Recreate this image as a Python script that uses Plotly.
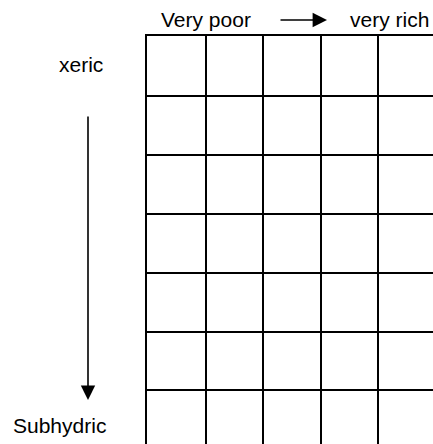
import plotly.graph_objects as go

# edatopic grid: nutrient richness across, soil moisture down
nutrient_classes = ['very poor', 'poor', 'medium', 'rich', 'very rich']
moisture_classes = ['xeric', 'very dry', 'dry', 'fresh', 'moist', 'wet', 'subhydric']
axis_labels = {'left': 'Very poor', 'right': 'very rich',
               'top': 'xeric', 'bottom': 'Subhydric'}

W, H = 433, 444
L, T = 147, 36
col_px, row_px = 57.5, 58.9
font = dict(family='Liberation Sans, Arial, sans-serif', size=21, color='black')


def px(x, y):
    # figure pixels -> paper coords
    return (x - L) / (W - L), 1 - (y - T) / (H - T)


x0 = -1 / col_px
y0 = -1 / row_px

fig = go.Figure()
fig.add_trace(go.Scatter(x=[0], y=[0], mode='markers', marker=dict(opacity=0),
                         hoverinfo='skip', showlegend=False))

grid = dict(showgrid=True, gridcolor='black', gridwidth=2, zeroline=False,
            showline=True, linecolor='black', linewidth=2, mirror=False,
            showticklabels=False, ticks='')
fig.update_xaxes(range=[x0, x0 + (W - L) / col_px], side='top',
                 tickvals=list(range(1, len(nutrient_classes) + 1)), **grid)
fig.update_yaxes(range=[y0 + (H - T) / row_px, y0],
                 tickvals=list(range(1, len(moisture_classes) + 1)), **grid)

texts = [(axis_labels['left'], 205.5, 20), (axis_labels['right'], 389.5, 20),
         (axis_labels['top'], 81, 65), (axis_labels['bottom'], 59, 425)]
for t, x, y in texts:
    px_, py_ = px(x, y)
    fig.add_annotation(x=px_, y=py_, xref='paper', yref='paper', text=t,
                       showarrow=False, font=font, xanchor='center', yanchor='middle')

arrows = [(327, 20, -48, 0), (88, 400, 0, -285)]
for x, y, ax, ay in arrows:
    px_, py_ = px(x, y)
    fig.add_annotation(x=px_, y=py_, xref='paper', yref='paper', text='',
                       showarrow=True, arrowhead=2, arrowsize=1.8, arrowwidth=1.6,
                       arrowcolor='black', ax=ax, ay=ay)

fig.update_layout(width=W, height=H, margin=dict(l=L, r=0, t=T, b=0),
                  plot_bgcolor='white', paper_bgcolor='white', showlegend=False)
fig.write_html('out.html', config={'displayModeBar': False},
               post_script="document.body.style.margin='0';")
